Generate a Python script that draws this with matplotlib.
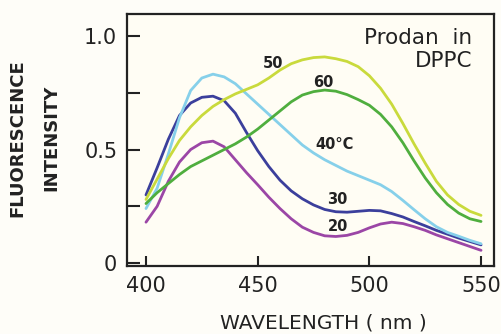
import numpy as np
import matplotlib
matplotlib.use("Agg")
import matplotlib.pyplot as plt

# wavelength grid (nm) read every 5 nm
wavelength = list(range(400, 555, 5))

# fluorescence intensity, one list per temperature
t20 = [0.18, 0.25, 0.36, 0.445, 0.50, 0.53, 0.537, 0.512, 0.455, 0.398, 0.345,
       0.29, 0.24, 0.195, 0.158, 0.135, 0.12, 0.117, 0.122, 0.135, 0.155,
       0.172, 0.18, 0.174, 0.16, 0.144, 0.124, 0.107, 0.09, 0.073, 0.056]
t30 = [0.30, 0.42, 0.545, 0.65, 0.705, 0.73, 0.735, 0.715, 0.66, 0.575, 0.495,
       0.425, 0.365, 0.318, 0.283, 0.256, 0.236, 0.226, 0.224, 0.228, 0.232,
       0.23, 0.218, 0.203, 0.183, 0.164, 0.144, 0.127, 0.11, 0.095, 0.08]
t40 = [0.24, 0.33, 0.48, 0.64, 0.76, 0.815, 0.832, 0.82, 0.79, 0.745, 0.70,
       0.655, 0.61, 0.565, 0.52, 0.485, 0.455, 0.43, 0.405, 0.385, 0.365,
       0.345, 0.315, 0.276, 0.235, 0.195, 0.16, 0.135, 0.118, 0.10, 0.085]
t50 = [0.28, 0.37, 0.46, 0.54, 0.60, 0.65, 0.69, 0.72, 0.745, 0.765, 0.785,
       0.815, 0.85, 0.878, 0.895, 0.905, 0.908, 0.90, 0.888, 0.865, 0.825,
       0.77, 0.70, 0.615, 0.525, 0.44, 0.36, 0.30, 0.258, 0.228, 0.21]
t60 = [0.262, 0.31, 0.35, 0.39, 0.425, 0.45, 0.475, 0.50, 0.525, 0.555, 0.59,
       0.63, 0.67, 0.71, 0.74, 0.755, 0.762, 0.757, 0.742, 0.72, 0.695,
       0.655, 0.60, 0.53, 0.45, 0.375, 0.31, 0.258, 0.22, 0.195, 0.183]

x_ticks = [400, 450, 500, 550]
y_ticks = [0, 0.25, 0.5, 0.75, 1.0]
y_ticklabels = ["0", "", "0.5", "", "1.0"]

series = [
    (t20, "#9b46a6", "20", 486, 0.163),
    (t30, "#3b3f9c", "30", 485.5, 0.278),
    (t40, "#86d0ea", "40°C", 484.6, 0.524),
    (t50, "#c9da3c", "50", 456.9, 0.881),
    (t60, "#4fae3e", "60", 479.3, 0.797),
]

fig = plt.figure(figsize=(5.02, 3.34), dpi=100, facecolor="#fefdf8")
ax = fig.add_axes([127 / 502, 1 - 266 / 334, 367 / 502, 252 / 334])
ax.set_facecolor("#fffdf4")

for vals, color, label, lx, ly in series:
    ax.plot(wavelength, vals, color=color, linewidth=2.0,
            solid_capstyle="round", solid_joinstyle="round")
    ax.text(lx, ly, label, ha="center", va="center", fontsize=10.5,
            fontweight="bold", color="#222222")

ax.text(546, 0.94, "Prodan  in\nDPPC", ha="right", va="center", fontsize=15.5,
        color="#222222", linespacing=1.15, multialignment="right")

ax.set_xlim(391.5, 555.8)
ax.set_ylim(-0.013, 1.097)
ax.set_xticks(x_ticks)
ax.set_yticks(y_ticks)
ax.set_yticklabels(y_ticklabels)
ax.tick_params(direction="in", length=9, width=1.5, color="#222222",
               labelsize=15, labelcolor="#222222", pad=7)
ax.tick_params(axis="x", length=7)
for s in ax.spines.values():
    s.set_linewidth(1.6)
    s.set_color("#222222")

fig.text(17 / 502, 1 - 138 / 334, "FLUORESCENCE", rotation=90, ha="center",
         va="center", fontsize=13, fontweight="bold", color="#222222")
fig.text(51 / 502, 1 - 138 / 334, "INTENSITY", rotation=90, ha="center",
         va="center", fontsize=13, fontweight="bold", color="#222222")
fig.text(323 / 502, 1 - 323 / 334, "WAVELENGTH ( nm )", ha="center",
         va="center", fontsize=14.5, color="#222222")

fig.savefig("out.png", dpi=100, facecolor=fig.get_facecolor())
